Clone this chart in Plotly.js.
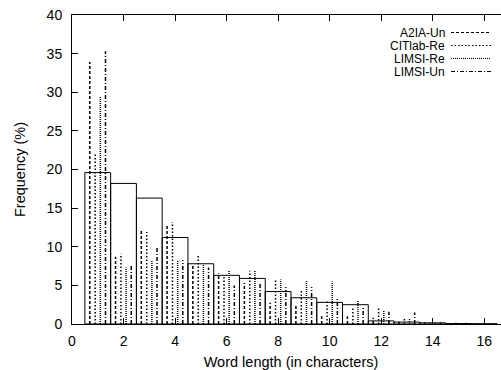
<!DOCTYPE html>
<html>
<head>
<meta charset="utf-8">
<script src="https://cdn.plot.ly/plotly-3.0.1.min.js"></script>
<style>
html,body{margin:0;padding:0;overflow:hidden;background:#fff;}
#chart{width:520px;height:370px;}
</style>
</head>
<body>
<div id="chart"></div>
<script>
// Word lengths (characters)
const wordLengths = [1, 2, 3, 4, 5, 6, 7, 8, 9, 10, 11, 12, 13, 14, 15, 16];
// Reference histogram (boxes), frequency %
const refFreq = [19.6, 18.2, 16.3, 11.2, 7.8, 6.3, 5.9, 4.2, 3.4, 2.8, 2.5, 0.4, 0.25, 0.15, 0.05, 0.03];
// System outputs, frequency %
const a2iaUn   = [33.9, 8.7, 12.1, 12.75, 7.7, 6.55, 5.3, 2.75, 2.45, 1.16, 1.0, 0.8, 0.3, 0.2, 0.05, 0.1];
const citlabRe = [22.1, 9.1, 11.9, 13.2, 8.9, 6.1, 6.9, 5.7, 4.3, 2.9, 2.1, 2.0, 0.65, 0.1, 0.15, 0.03];
const limsiRe  = [29.4, 7.3, 8.3, 8.2, 7.7, 6.9, 6.9, 5.75, 5.6, 5.5, 3.1, 1.7, 0.65, 0.15, 0.05, 0.03];
const limsiUn  = [35.3, 7.75, 9.86, 8.27, 7.3, 5.0, 5.3, 4.8, 4.8, 3.25, 2.3, 1.6, 1.5, 0.2, 0.15, 0.05];
const seriesNames = ["A2IA-Un", "CITlab-Re", "LIMSI-Re", "LIMSI-Un"];
const xTickVals = [0, 2, 4, 6, 8, 10, 12, 14, 16];
const yTickVals = [0, 5, 10, 15, 20, 25, 30, 35, 40];

const seriesData = [a2iaUn, citlabRe, limsiRe, limsiUn];
const offsets = [-0.31, -0.1, 0.1, 0.3];
const dashes = ["3px,2px", "1.5px,2px", "1px,1px", "4px,2px,1px,2px"];
const FONT = {family: "Liberation Sans, Arial, sans-serif", size: 14, color: "#000"};
const TFONT = {family: "Liberation Sans, Arial, sans-serif", size: 14.5, color: "#000"};
const LFONT = {family: "Liberation Sans, Arial, sans-serif", size: 12, color: "#000"};

const traces = [{
  type: "bar",
  x: wordLengths,
  y: refFreq,
  width: 1,
  marker: {color: "rgba(255,255,255,0)", line: {color: "#000", width: 1}},
  showlegend: false,
  hoverinfo: "skip"
}];

seriesData.forEach((vals, s) => {
  const xs = [], ys = [];
  wordLengths.forEach((c, i) => {
    xs.push(c + offsets[s], c + offsets[s], null);
    ys.push(0, vals[i], null);
  });
  traces.push({
    type: "scatter", mode: "lines", name: seriesNames[s],
    x: xs, y: ys,
    line: {color: "#000", width: 1.5, dash: dashes[s]},
    showlegend: false, hoverinfo: "skip"
  });
});

// gnuplot-style key: text right-aligned, sample to the right
const plotL = 72, plotR = 510, plotT = 15, plotB = 324;
const px2x = p => (p - plotL) / (plotR - plotL);
const py2y = p => (plotB - p) / (plotB - plotT);
const annotations = [], shapes = [];
seriesNames.forEach((n, s) => {
  const yy = py2y(32.5 + s * 13);
  annotations.push({
    xref: "paper", yref: "paper", x: px2x(446), y: yy,
    xanchor: "right", yanchor: "middle", text: n, showarrow: false, font: LFONT,
    borderpad: 0
  });
  shapes.push({
    type: "line", xref: "paper", yref: "paper",
    x0: px2x(451), x1: px2x(491), y0: yy, y1: yy,
    line: {color: "#000", width: 1.2, dash: dashes[s]}
  });
});

const layout = {
  width: 520, height: 370,
  margin: {l: 72, r: 10, t: 15, b: 46},
  paper_bgcolor: "#fff", plot_bgcolor: "#fff",
  font: FONT,
  barmode: "overlay",
  xaxis: {
    range: [0, 17], tickvals: xTickVals, ticks: "inside", ticklen: 6, tickcolor: "#000",
    showline: true, linecolor: "#000", linewidth: 1, mirror: "ticks",
    showgrid: false, zeroline: false, ticklabelstandoff: 4,
    title: {text: "Word length (in characters)", font: TFONT, standoff: 9}
  },
  yaxis: {
    range: [0, 40], tickvals: yTickVals, ticks: "inside", ticklen: 6, tickcolor: "#000",
    showline: true, linecolor: "#000", linewidth: 1, mirror: "ticks",
    showgrid: false, zeroline: false, ticklabelstandoff: 6,
    title: {text: "Frequency (%)", font: TFONT, standoff: 17}
  },
  annotations: annotations,
  shapes: shapes
};

Plotly.newPlot("chart", traces, layout, {staticPlot: true, displayModeBar: false});
</script>
</body>
</html>
